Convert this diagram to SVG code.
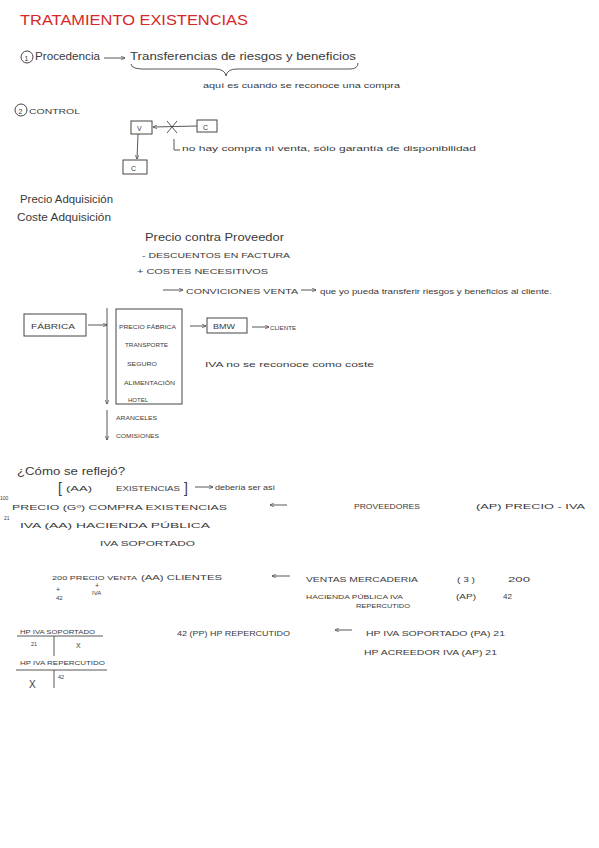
<svg xmlns="http://www.w3.org/2000/svg" width="599" height="848" viewBox="0 0 599 848">
<style>
text{font-family:"Liberation Sans",Arial,sans-serif;fill:#3a3a3a;font-size:9px}
.t{fill:#d8262a;font-size:15px}
.s{font-size:7px}
.m{font-size:10px}
.xs{font-size:6px}
.xxs{font-size:5.5px}
.b{font-size:8px}
.br{font-size:14px}
.sup{font-size:5px}
.box{fill:none;stroke:#444;stroke-width:1}
.ln{fill:none;stroke:#444;stroke-width:0.9}
</style>
<defs>
<marker id="ah" viewBox="0 0 10 10" refX="9" refY="5" markerWidth="5" markerHeight="5" orient="auto"><path d="M0,1 L10,5 L0,9" fill="none" stroke="#444" stroke-width="1.5"/></marker>
</defs>
<rect width="599" height="848" fill="#fff"/>

<text class="t" x="20" y="25" textLength="228" lengthAdjust="spacingAndGlyphs">TRATAMIENTO EXISTENCIAS</text>

<g id="sec1">
<circle cx="27" cy="57" r="6" class="box"/>
<text x="24.5" y="60.5" class="s">1</text>
<text x="35" y="60" class="m" textLength="65" lengthAdjust="spacingAndGlyphs">Procedencia</text>
<text x="130" y="60" class="m" textLength="226" lengthAdjust="spacingAndGlyphs">Transferencias de riesgos y beneficios</text>
<text x="203" y="88" class="s" textLength="197" lengthAdjust="spacingAndGlyphs">aquí es cuando se reconoce una compra</text>
</g>

<g id="sec2">
<circle cx="21" cy="110" r="6" class="box"/>
<text x="18.5" y="113.5" class="s">2</text>
<text x="29" y="114" class="s" textLength="51" lengthAdjust="spacingAndGlyphs">CONTROL</text>
</g>
<g id="nodeV"><rect x="131" y="121" width="21" height="13" class="box"/><text x="137" y="131" class="s">V</text></g>
<g id="nodeC1"><rect x="197" y="120" width="20" height="12" class="box"/><text x="203" y="130" class="s">C</text></g>
<g id="nodeC2"><rect x="123" y="160" width="24" height="14" class="box"/><text x="131" y="171" class="s">C</text></g>
<text x="182" y="151" class="s" textLength="294" lengthAdjust="spacingAndGlyphs">no hay compra ni venta, sólo garantía de   disponibilidad</text>

<g id="sec3">
<text x="20" y="203" class="m" textLength="93" lengthAdjust="spacingAndGlyphs">Precio Adquisición</text>
<text x="17" y="221" class="m" textLength="94" lengthAdjust="spacingAndGlyphs">Coste Adquisición</text>
<text x="145" y="241" class="m" textLength="139" lengthAdjust="spacingAndGlyphs">Precio contra  Proveedor</text>
<text x="142" y="258" class="s" textLength="148" lengthAdjust="spacingAndGlyphs">- DESCUENTOS    EN FACTURA</text>
<text x="137" y="274" class="s" textLength="131" lengthAdjust="spacingAndGlyphs">+ COSTES    NECESITIVOS</text>
<text x="186" y="294" class="s" textLength="112" lengthAdjust="spacingAndGlyphs">CONVICIONES   VENTA</text>
<text x="320" y="294" class="s" textLength="232" lengthAdjust="spacingAndGlyphs">que yo pueda transferir riesgos y beneficios al cliente.</text>
</g>

<g id="nodeFabrica"><rect x="24" y="314" width="62" height="22" class="box"/><text x="31" y="329" class="s" textLength="44" lengthAdjust="spacingAndGlyphs">FÁBRICA</text></g>
<g id="nodeCostes"><rect x="116" y="309" width="66" height="95" class="box"/>
<text x="119" y="329" class="xs" textLength="57" lengthAdjust="spacingAndGlyphs">PRECIO FÁBRICA</text>
<text x="125" y="347" class="xs" textLength="43" lengthAdjust="spacingAndGlyphs">TRANSPORTE</text>
<text x="127" y="366" class="xs" textLength="30" lengthAdjust="spacingAndGlyphs">SEGURO</text>
<text x="124" y="385" class="xs" textLength="51" lengthAdjust="spacingAndGlyphs">ALIMENTACIÓN</text>
<text x="128" y="402" class="xs" textLength="20" lengthAdjust="spacingAndGlyphs">HOTEL</text>
</g>
<g id="nodeBMW"><rect x="207" y="318" width="40" height="15" class="box"/><text x="213" y="329" class="s" textLength="22" lengthAdjust="spacingAndGlyphs">BMW</text></g>
<text x="270" y="330" class="xs" textLength="26" lengthAdjust="spacingAndGlyphs">CLIENTE</text>
<text x="205" y="367" class="s" textLength="169" lengthAdjust="spacingAndGlyphs">IVA no se  reconoce como  coste</text>
<text x="116" y="420" class="xs" textLength="41" lengthAdjust="spacingAndGlyphs">ARANCELES</text>
<text x="116" y="438" class="xs" textLength="43" lengthAdjust="spacingAndGlyphs">COMISIONES</text>

<g id="sec4">
<text x="17" y="475" class="m" textLength="108" lengthAdjust="spacingAndGlyphs">¿Cómo se  reflejó?</text>
<text x="58" y="493" class="br">[</text>
<text x="66" y="491" class="s" textLength="26" lengthAdjust="spacingAndGlyphs">(AA)</text>
<text x="116" y="491" class="s" textLength="64" lengthAdjust="spacingAndGlyphs">EXISTENCIAS</text>
<text x="184" y="493" class="br">]</text>
<text x="215" y="490" class="s" textLength="60" lengthAdjust="spacingAndGlyphs">debería ser así</text>
<text x="0" y="500" class="sup">100</text>
<text x="12" y="510" class="s" textLength="215" lengthAdjust="spacingAndGlyphs">PRECIO   (Gº)   COMPRA   EXISTENCIAS</text>
<text x="354" y="509" class="s" textLength="66" lengthAdjust="spacingAndGlyphs">PROVEEDORES</text>
<text x="476" y="509" class="s" textLength="109" lengthAdjust="spacingAndGlyphs">(AP)   PRECIO - IVA</text>
<text x="4" y="520" class="sup">21</text>
<text x="20" y="528" class="s" textLength="190" lengthAdjust="spacingAndGlyphs">IVA    (AA)     HACIENDA     PÚBLICA</text>
<text x="100" y="546" class="s" textLength="95" lengthAdjust="spacingAndGlyphs">IVA    SOPORTADO</text>
</g>

<g id="sec5">
<text x="52" y="580" class="xs" textLength="85" lengthAdjust="spacingAndGlyphs">200 PRECIO VENTA</text>
<text x="141" y="580" class="s" textLength="81" lengthAdjust="spacingAndGlyphs">(AA)  CLIENTES</text>
<text x="95" y="588" class="s">+</text>
<text x="92" y="595" class="xs">IVA</text>
<text x="56" y="592" class="s">+</text>
<text x="56" y="600" class="xs">42</text>
<text x="306" y="582" class="s" textLength="112" lengthAdjust="spacingAndGlyphs">VENTAS    MERCADERIA</text>
<text x="457" y="582" class="b" textLength="18" lengthAdjust="spacingAndGlyphs">( 3 )</text>
<text x="508" y="582" class="b" textLength="22" lengthAdjust="spacingAndGlyphs">200</text>
<text x="306" y="599" class="xs" textLength="97" lengthAdjust="spacingAndGlyphs">HACIENDA PÚBLICA IVA</text>
<text x="356" y="608" class="xxs" textLength="54" lengthAdjust="spacingAndGlyphs">REPERCUTIDO</text>
<text x="456" y="599" class="b" textLength="20" lengthAdjust="spacingAndGlyphs">(AP)</text>
<text x="503" y="599" class="b">42</text>
</g>

<g id="tAccounts">
<text x="20" y="634" class="xxs" textLength="75" lengthAdjust="spacingAndGlyphs">HP IVA  SOPORTADO</text>
<line x1="17" y1="636" x2="103" y2="636" class="ln"/>
<line x1="54" y1="636" x2="54" y2="656" class="ln"/>
<text x="31" y="646" class="xxs">21</text>
<text x="76" y="648" class="s">X</text>
<text x="20" y="665" class="xs" textLength="85" lengthAdjust="spacingAndGlyphs">HP IVA REPERCUTIDO</text>
<line x1="16" y1="670" x2="107" y2="670" class="ln"/>
<line x1="54" y1="670" x2="54" y2="688" class="ln"/>
<text x="29" y="688" class="m">X</text>
<text x="58" y="679" class="xxs">42</text>
</g>
<text x="177" y="636" class="s" textLength="113" lengthAdjust="spacingAndGlyphs">42 (PP) HP REPERCUTIDO</text>
<text x="366" y="636" class="s" textLength="139" lengthAdjust="spacingAndGlyphs">HP IVA SOPORTADO (PA) 21</text>
<text x="364" y="655" class="s" textLength="133" lengthAdjust="spacingAndGlyphs">HP  ACREEDOR  IVA (AP)  21</text>

<g id="connectors">
<path d="M104,58 L125,58" class="ln" marker-end="url(#ah)"/>
<path d="M131,64 Q131,70 150,69 L215,69 Q225,69 226,76 Q227,69 237,69 L350,69 Q358,69 358,63" class="ln"/>
<path d="M197,126 L153,127" class="ln" marker-end="url(#ah)"/>
<path d="M167,121 L177,133 M177,121 L167,133" class="ln"/>
<path d="M138,134 L137,159" class="ln" marker-end="url(#ah)"/>
<path d="M174,139 L174,150 L180,150" class="ln"/>
<path d="M163,290 L183,290" class="ln" marker-end="url(#ah)"/>
<path d="M301,290 L316,290" class="ln" marker-end="url(#ah)"/>
<path d="M88,325 L107,325" class="ln" marker-end="url(#ah)"/>
<path d="M107,308 L107,404" class="ln" marker-end="url(#ah)"/>
<path d="M190,326 L206,326" class="ln" marker-end="url(#ah)"/>
<path d="M252,327 L269,327" class="ln" marker-end="url(#ah)"/>
<path d="M107,410 L107,440" class="ln" marker-end="url(#ah)"/>
<path d="M195,487 L213,487" class="ln" marker-end="url(#ah)"/>
<path d="M287,505 L270,505" class="ln" marker-end="url(#ah)"/>
<path d="M290,576 L272,576" class="ln" marker-end="url(#ah)"/>
<path d="M352,630 L335,630" class="ln" marker-end="url(#ah)"/>
</g>
</svg>
